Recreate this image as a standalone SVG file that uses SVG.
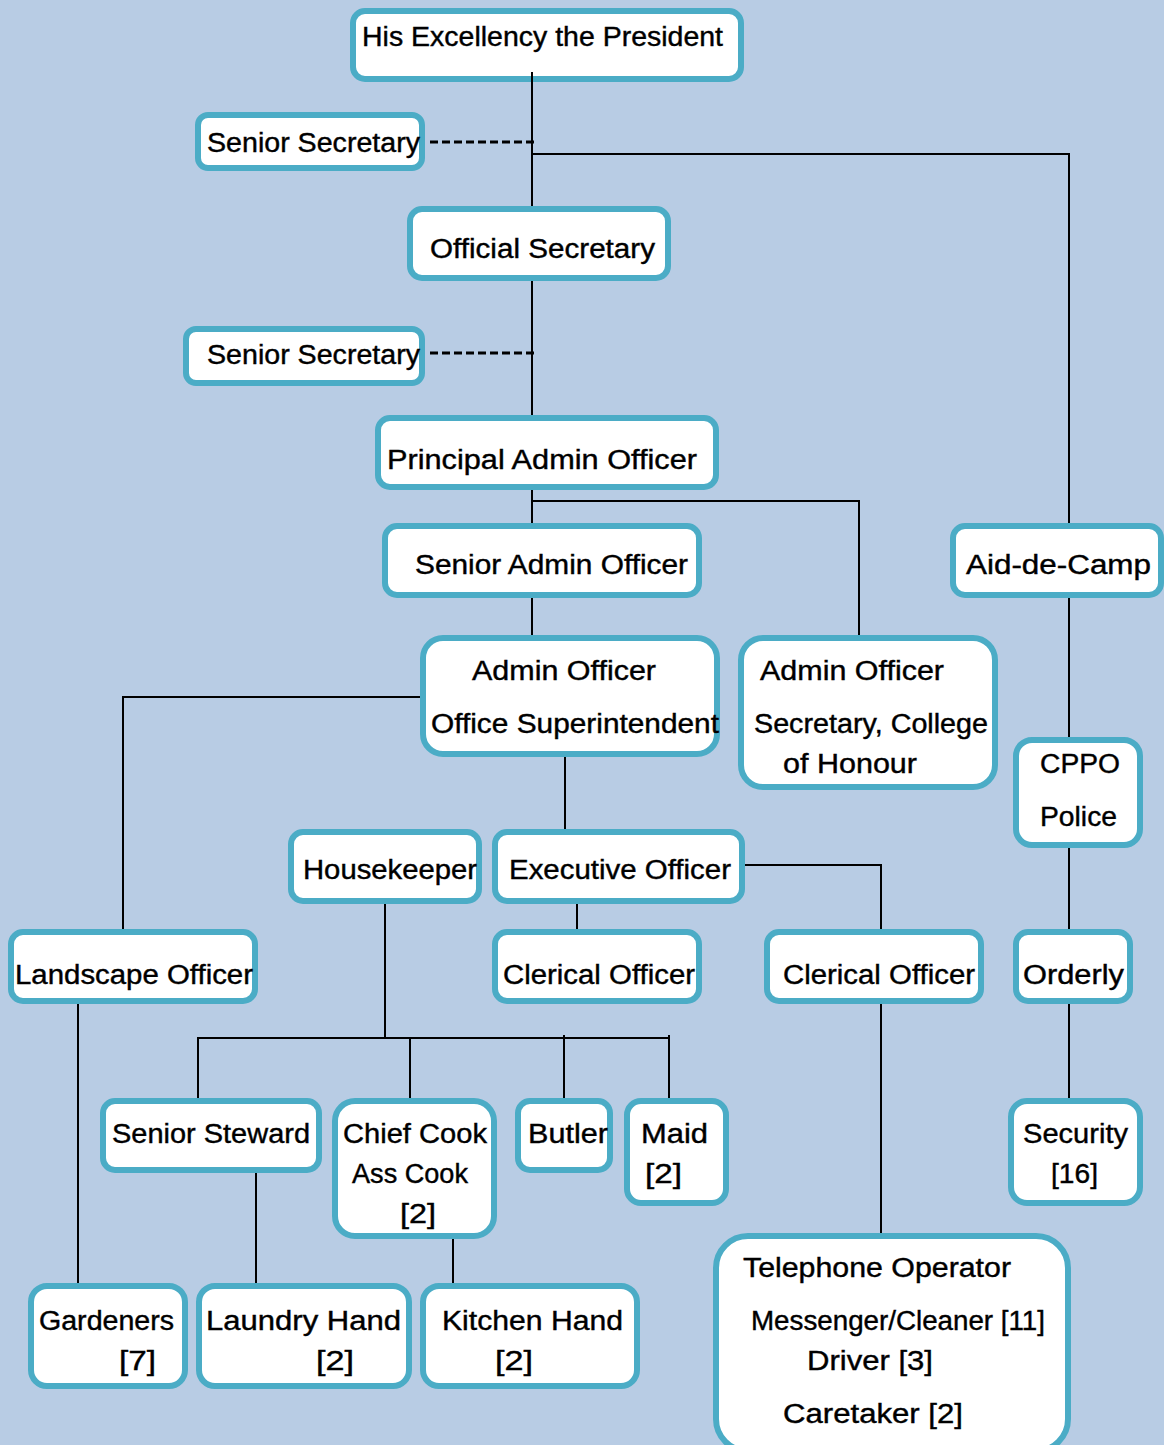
<svg xmlns="http://www.w3.org/2000/svg" width="1164" height="1445" viewBox="0 0 1164 1445">
<style>
.box{fill:#ffffff;stroke:#4BACC6;stroke-width:6}
.t{font-family:"Liberation Sans",Arial,sans-serif;font-size:27px;fill:#000;stroke:#000;stroke-width:0.4}
.c{stroke:#000;stroke-width:2;fill:none}
.d{stroke:#000;stroke-width:3;stroke-dasharray:8 4;fill:none}
</style>
<rect x="0" y="0" width="1164" height="1445" fill="#B8CCE4"/>
<g id="nodes">
<g id="president"><rect class="box" x="353" y="11" width="388" height="68" rx="12"/><text class="t" x="362" y="46" textLength="361" lengthAdjust="spacingAndGlyphs">His Excellency the President</text></g>
<g id="senior-secretary-1"><rect class="box" x="198" y="115" width="224" height="53" rx="10"/><text class="t" x="207" y="152" textLength="213" lengthAdjust="spacingAndGlyphs">Senior Secretary</text></g>
<g id="official-secretary"><rect class="box" x="410" y="209" width="258" height="69" rx="12"/><text class="t" x="430" y="258" textLength="225" lengthAdjust="spacingAndGlyphs">Official Secretary</text></g>
<g id="senior-secretary-2"><rect class="box" x="186" y="329" width="236" height="54" rx="10"/><text class="t" x="207" y="364" textLength="213" lengthAdjust="spacingAndGlyphs">Senior Secretary</text></g>
<g id="principal-admin-officer"><rect class="box" x="378" y="418" width="338" height="69" rx="12"/><text class="t" x="387" y="469" textLength="310" lengthAdjust="spacingAndGlyphs">Principal Admin Officer</text></g>
<g id="senior-admin-officer"><rect class="box" x="385" y="526" width="314" height="69" rx="12"/><text class="t" x="415" y="574" textLength="273" lengthAdjust="spacingAndGlyphs">Senior Admin Officer</text></g>
<g id="aid-de-camp"><rect class="box" x="953" y="526" width="208" height="69" rx="12"/><text class="t" x="966" y="574" textLength="185" lengthAdjust="spacingAndGlyphs">Aid-de-Camp</text></g>
<g id="admin-officer-1"><rect class="box" x="423" y="638" width="294" height="116" rx="20"/><text class="t" x="472" y="680" textLength="184" lengthAdjust="spacingAndGlyphs">Admin Officer</text><text class="t" x="431" y="733" textLength="288" lengthAdjust="spacingAndGlyphs">Office Superintendent</text></g>
<g id="admin-officer-2"><rect class="box" x="741" y="638" width="254" height="149" rx="22"/><text class="t" x="760" y="680" textLength="184" lengthAdjust="spacingAndGlyphs">Admin Officer</text><text class="t" x="754" y="733" textLength="234" lengthAdjust="spacingAndGlyphs">Secretary, College</text><text class="t" x="783" y="773" textLength="134" lengthAdjust="spacingAndGlyphs">of Honour</text></g>
<g id="cppo"><rect class="box" x="1016" y="740" width="124" height="105" rx="16"/><text class="t" x="1040" y="773" textLength="80" lengthAdjust="spacingAndGlyphs">CPPO</text><text class="t" x="1040" y="826" textLength="77" lengthAdjust="spacingAndGlyphs">Police</text></g>
<g id="housekeeper"><rect class="box" x="291" y="832" width="188" height="69" rx="12"/><text class="t" x="303" y="879" textLength="174" lengthAdjust="spacingAndGlyphs">Housekeeper</text></g>
<g id="executive-officer"><rect class="box" x="495" y="832" width="247" height="69" rx="12"/><text class="t" x="509" y="879" textLength="222" lengthAdjust="spacingAndGlyphs">Executive Officer</text></g>
<g id="landscape-officer"><rect class="box" x="11" y="932" width="244" height="69" rx="12"/><text class="t" x="15" y="984" textLength="238" lengthAdjust="spacingAndGlyphs">Landscape Officer</text></g>
<g id="clerical-officer-1"><rect class="box" x="495" y="932" width="204" height="69" rx="12"/><text class="t" x="503" y="984" textLength="192" lengthAdjust="spacingAndGlyphs">Clerical Officer</text></g>
<g id="clerical-officer-2"><rect class="box" x="767" y="932" width="214" height="69" rx="12"/><text class="t" x="783" y="984" textLength="192" lengthAdjust="spacingAndGlyphs">Clerical Officer</text></g>
<g id="orderly"><rect class="box" x="1016" y="932" width="114" height="69" rx="12"/><text class="t" x="1023" y="984" textLength="101" lengthAdjust="spacingAndGlyphs">Orderly</text></g>
<g id="senior-steward"><rect class="box" x="103" y="1101" width="216" height="69" rx="12"/><text class="t" x="112" y="1143" textLength="198" lengthAdjust="spacingAndGlyphs">Senior Steward</text></g>
<g id="chief-cook"><rect class="box" x="335" y="1101" width="159" height="135" rx="20"/><text class="t" x="343" y="1143" textLength="144" lengthAdjust="spacingAndGlyphs">Chief Cook</text><text class="t" x="352" y="1183" textLength="116" lengthAdjust="spacingAndGlyphs">Ass Cook</text><text class="t" x="400" y="1223" textLength="36" lengthAdjust="spacingAndGlyphs">[2]</text></g>
<g id="butler"><rect class="box" x="518" y="1101" width="92" height="69" rx="12"/><text class="t" x="528" y="1143" textLength="80" lengthAdjust="spacingAndGlyphs">Butler</text></g>
<g id="maid"><rect class="box" x="627" y="1101" width="99" height="102" rx="14"/><text class="t" x="641" y="1143" textLength="67" lengthAdjust="spacingAndGlyphs">Maid</text><text class="t" x="645" y="1183" textLength="37" lengthAdjust="spacingAndGlyphs">[2]</text></g>
<g id="security"><rect class="box" x="1011" y="1101" width="129" height="102" rx="16"/><text class="t" x="1023" y="1143" textLength="105" lengthAdjust="spacingAndGlyphs">Security</text><text class="t" x="1051" y="1183" textLength="47" lengthAdjust="spacingAndGlyphs">[16]</text></g>
<g id="gardeners"><rect class="box" x="31" y="1286" width="154" height="100" rx="16"/><text class="t" x="39" y="1330" textLength="135" lengthAdjust="spacingAndGlyphs">Gardeners</text><text class="t" x="119" y="1370" textLength="37" lengthAdjust="spacingAndGlyphs">[7]</text></g>
<g id="laundry-hand"><rect class="box" x="199" y="1286" width="210" height="100" rx="16"/><text class="t" x="206" y="1330" textLength="195" lengthAdjust="spacingAndGlyphs">Laundry Hand</text><text class="t" x="316" y="1370" textLength="38" lengthAdjust="spacingAndGlyphs">[2]</text></g>
<g id="kitchen-hand"><rect class="box" x="423" y="1286" width="214" height="100" rx="16"/><text class="t" x="442" y="1330" textLength="181" lengthAdjust="spacingAndGlyphs">Kitchen Hand</text><text class="t" x="495" y="1370" textLength="38" lengthAdjust="spacingAndGlyphs">[2]</text></g>
<g id="telephone-operator"><rect class="box" x="716" y="1236" width="352" height="215" rx="32"/><text class="t" x="743" y="1277" textLength="268" lengthAdjust="spacingAndGlyphs">Telephone Operator</text><text class="t" x="751" y="1330" textLength="294" lengthAdjust="spacingAndGlyphs">Messenger/Cleaner [11]</text><text class="t" x="807" y="1370" textLength="126" lengthAdjust="spacingAndGlyphs">Driver [3]</text><text class="t" x="783" y="1423" textLength="180" lengthAdjust="spacingAndGlyphs">Caretaker [2]</text></g>
</g>
<g id="connectors">
<path class="c" d="M532 72V206"/>
<path class="d" d="M430 142H538"/>
<path class="c" d="M532 154H1069V523"/>
<path class="c" d="M532 281V415"/>
<path class="d" d="M430 353H538"/>
<path class="c" d="M532 490V523"/>
<path class="c" d="M532 501H859V635"/>
<path class="c" d="M532 598V635"/>
<path class="c" d="M1069 598V737"/>
<path class="c" d="M1069 848V929"/>
<path class="c" d="M1069 1004V1098"/>
<path class="c" d="M420 697H123V929"/>
<path class="c" d="M565 757V829"/>
<path class="c" d="M577 904V929"/>
<path class="c" d="M745 865H881V929"/>
<path class="c" d="M385 904V1038"/>
<path class="c" d="M198 1098V1038H670"/>
<path class="c" d="M410 1038V1098"/>
<path class="c" d="M564 1035V1098"/>
<path class="c" d="M669 1035V1098"/>
<path class="c" d="M78 1004V1283"/>
<path class="c" d="M256 1173V1283"/>
<path class="c" d="M453 1239V1283"/>
<path class="c" d="M881 1004V1233"/>
</g>
</svg>
